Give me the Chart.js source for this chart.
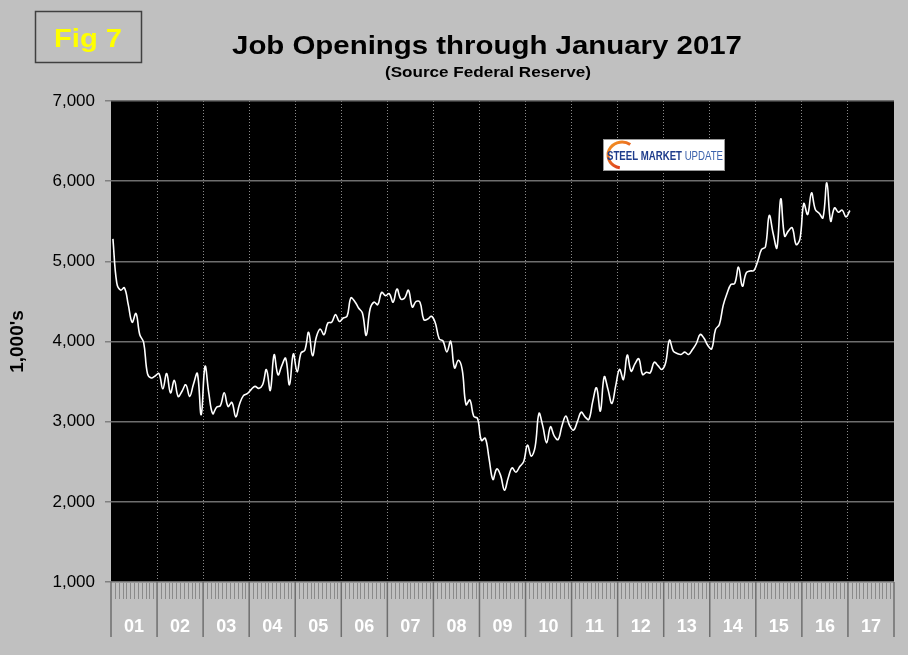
<!DOCTYPE html>
<html>
<head>
<meta charset="utf-8">
<script src="https://cdn.jsdelivr.net/npm/chart.js@4.4.1/dist/chart.umd.min.js"></script>
<style>
  html, body { margin: 0; padding: 0; background: #c0c0c0; }
  #wrap { width: 908px; height: 655px; }
</style>
</head>
<body>
<div id="wrap"><canvas id="grafico"></canvas></div>
<script>
// Anos do eixo x (um rótulo por ano, 12 meses cada)
const yearLabels = ['01', '02', '03', '04', '05', '06', '07', '08', '09', '10', '11', '12', '13', '14', '15', '16', '17'];
const monthNames = ['Jan', 'Feb', 'Mar', 'Apr', 'May', 'Jun', 'Jul', 'Aug', 'Sep', 'Oct', 'Nov', 'Dec'];

// Vagas de emprego (milhares), jan 2001 a jan 2017
const jobOpenings = [
  5280, 4730, 4640, 4670, 4460, 4240, 4350, 4085, 3990, 3600, 3545, 3570,
  3600, 3410, 3600, 3360, 3515, 3315, 3380, 3460, 3315, 3470, 3600, 3087,
  3690, 3350, 3100, 3180, 3200, 3360, 3190, 3240, 3060, 3220, 3325, 3350,
  3400, 3440, 3415, 3460, 3650, 3390, 3835, 3585, 3700, 3790, 3460, 3845,
  3620, 3857, 3890, 4115, 3823, 4056, 4156, 4085, 4231, 4240, 4335, 4250,
  4293, 4314, 4543, 4500, 4418, 4356, 4077, 4405, 4490, 4460, 4613, 4572,
  4597, 4490, 4655, 4530, 4542, 4640, 4430, 4500, 4490, 4272, 4280, 4314,
  4231, 4035, 4006, 3870, 4002, 3670, 3765, 3650, 3212, 3270, 3067, 3040,
  2765, 2794, 2540, 2279, 2410, 2330, 2145, 2300, 2424, 2370, 2440, 2500,
  2707, 2570, 2686, 3102, 2944, 2736, 2936, 2820, 2778, 2950, 3069, 2950,
  2894, 3000, 3118, 3060, 3027, 3250, 3422, 3131, 3559, 3400, 3227, 3450,
  3651, 3526, 3830, 3630, 3720, 3784, 3588, 3617, 3609, 3740, 3700, 3651,
  3734, 4017, 3880, 3850, 3838, 3867, 3838, 3900, 3975, 4087, 4040, 3950,
  3908, 4150, 4212, 4450, 4599, 4711, 4723, 4927, 4690, 4857, 4880, 4886,
  5002, 5148, 5181, 5572, 5350, 5168, 5780, 5314, 5380, 5418, 5210, 5281,
  5721, 5584, 5854, 5647, 5600, 5543, 5979, 5501, 5667, 5613, 5638, 5555,
  5634
];

const yMin = 1000;
const yMax = 7000;
const yStep = 1000;

const titleText = 'Job Openings through January 2017';
const subtitleText = '(Source Federal Reserve)';
const figText = 'Fig 7';
const yTitle = "1,000's";

// Rótulos mensais montados a partir dos anos
const monthLabels = yearLabels.flatMap(y => monthNames.map(m => m + ' ' + y));

// Texto esticado na horizontal (o original é um pouco largo)
function stretchText(ctx, text, x, y, sx) {
    ctx.save();
    ctx.translate(x, y);
    ctx.scale(sx, 1);
    ctx.fillText(text, 0, 0);
    ctx.restore();
}

// Fundo cinza e área do gráfico preta
const fundoPlugin = {
    id: 'fundo',
    beforeDraw(chart) {
        const ctx = chart.ctx;
        const a = chart.chartArea;
        ctx.save();
        ctx.fillStyle = '#c0c0c0';
        ctx.fillRect(0, 0, chart.width, chart.height);
        ctx.fillStyle = '#000';
        ctx.fillRect(a.left, a.top, a.right - a.left, a.bottom - a.top);
        ctx.restore();
    }
};

// Títulos, caixa "Fig 7", eixo de anos e logotipo
const extrasPlugin = {
    id: 'extras',
    afterDraw(chart) {
        const ctx = chart.ctx;
        const a = chart.chartArea;
        const xs = chart.scales.x;
        ctx.save();

        // caixa Fig 7
        ctx.strokeStyle = '#404040';
        ctx.lineWidth = 1.5;
        ctx.strokeRect(35.5, 11.5, 106, 51);
        ctx.fillStyle = '#ffff00';
        ctx.font = 'bold 26px "Liberation Sans", Arial, sans-serif';
        ctx.textAlign = 'center';
        ctx.textBaseline = 'alphabetic';
        stretchText(ctx, figText, 88, 47, 1.12);

        // títulos
        ctx.fillStyle = '#000';
        ctx.font = 'bold 26.5px "Liberation Sans", Arial, sans-serif';
        stretchText(ctx, titleText, 487, 53.5, 1.11);
        ctx.font = 'bold 14px "Liberation Sans", Arial, sans-serif';
        stretchText(ctx, subtitleText, 488, 77, 1.22);

        // eixo x: marcas mensais, divisões anuais e rótulos
        const n = monthLabels.length;
        const w = xs.getPixelForValue(1) - xs.getPixelForValue(0);
        const b = a.bottom;
        for (let i = 0; i <= n; i++) {
            const x = (i < n ? xs.getPixelForValue(i) : xs.getPixelForValue(n - 1) + w) - w / 2;
            if (i % 12 === 0) {
                ctx.strokeStyle = '#6e6e6e';
                ctx.lineWidth = 1.5;
                ctx.beginPath();
                ctx.moveTo(x, b);
                ctx.lineTo(x, b + 55);
                ctx.stroke();
            } else {
                ctx.strokeStyle = '#8a8a8a';
                ctx.lineWidth = 1;
                ctx.beginPath();
                ctx.moveTo(Math.round(x) + 0.5, b + 1);
                ctx.lineTo(Math.round(x) + 0.5, b + 17);
                ctx.stroke();
            }
        }
        ctx.fillStyle = '#fff';
        ctx.font = 'bold 18px "Liberation Sans", Arial, sans-serif';
        ctx.textAlign = 'center';
        yearLabels.forEach((yl, k) => {
            const x = (xs.getPixelForValue(k * 12) + xs.getPixelForValue(k * 12 + 11)) / 2;
            ctx.fillText(yl, x, b + 50);
        });

        // logotipo Steel Market Update
        ctx.fillStyle = '#fff';
        ctx.fillRect(603, 139, 122, 32);
        ctx.strokeStyle = '#9a9a9a';
        ctx.lineWidth = 1;
        ctx.strokeRect(603.5, 139.5, 121, 31);
        const grad = ctx.createLinearGradient(608, 142, 630, 170);
        grad.addColorStop(0, '#f59a23');
        grad.addColorStop(1, '#d7261e');
        ctx.strokeStyle = grad;
        ctx.lineWidth = 3;
        ctx.beginPath();
        ctx.ellipse(622, 155, 14, 13, 0, -0.3 * Math.PI, 0.55 * Math.PI, true);
        ctx.stroke();
        ctx.textAlign = 'left';
        ctx.font = 'bold 12px "Liberation Sans", Arial, sans-serif';
        const s1 = 'STEEL ', s2 = 'MARKET ';
        const w1 = ctx.measureText(s1).width;
        const w2 = ctx.measureText(s2).width;
        ctx.font = '12px "Liberation Sans", Arial, sans-serif';
        const w3 = ctx.measureText('UPDATE').width;
        const sc = 116 / (w1 + w2 + w3);
        ctx.translate(607, 160);
        ctx.scale(sc, 1);
        ctx.font = 'bold 12px "Liberation Sans", Arial, sans-serif';
        ctx.fillStyle = '#1f3d8c';
        ctx.fillText(s1, 0, 0);
        ctx.fillText(s2, w1, 0);
        ctx.font = '12px "Liberation Sans", Arial, sans-serif';
        ctx.fillStyle = '#3d63ad';
        ctx.fillText('UPDATE', w1 + w2, 0);
        ctx.restore();
    }
};

function criarGrafico() {
    const ctx = document.getElementById('grafico').getContext('2d');

    Chart.defaults.font.family = '"Liberation Sans", Arial, sans-serif';
    Chart.defaults.color = '#000';

    new Chart(ctx, {
        type: 'line',
        data: {
            labels: monthLabels,
            datasets: [{
                label: 'Job Openings',
                data: jobOpenings,
                borderColor: '#ffffff',
                borderWidth: 1.6,
                pointRadius: 0,
                tension: 0.4,
                fill: false
            }]
        },
        options: {
            responsive: true,
            maintainAspectRatio: false,
            animation: false,
            layout: {
                padding: { top: 101, right: 14, bottom: 0, left: 0 }
            },
            plugins: {
                legend: { display: false },
                title: { display: false },
                tooltip: { enabled: false }
            },
            scales: {
                x: {
                    type: 'category',
                    offset: true,
                    afterFit(scale) { scale.height = 73; },
                    ticks: { display: false, autoSkip: false },
                    border: { display: false, dash: [1, 2] },
                    grid: {
                        offset: true,
                        drawTicks: false,
                        lineWidth: 1,
                        color(c) {
                            const i = c.index;
                            return (i % 12 === 0 && i > 0 && i < monthLabels.length) ? '#8a8a8a' : 'rgba(0,0,0,0)';
                        }
                    }
                },
                y: {
                    min: yMin,
                    max: yMax,
                    afterFit(scale) { scale.width = 111; },
                    ticks: {
                        stepSize: yStep,
                        padding: 10,
                        color: '#000',
                        font: { size: 17 },
                        callback: v => v.toLocaleString('en-US')
                    },
                    border: { display: false },
                    grid: {
                        color: '#6e6e6e',
                        lineWidth: 1.5,
                        tickLength: 6,
                        tickColor: '#808080'
                    },
                    title: {
                        display: true,
                        text: yTitle,
                        color: '#000',
                        font: { size: 19, weight: 'bold' },
                        padding: { top: 6, bottom: 0 }
                    }
                }
            }
        },
        plugins: [fundoPlugin, extrasPlugin]
    });
}

criarGrafico();
</script>
</body>
</html>
